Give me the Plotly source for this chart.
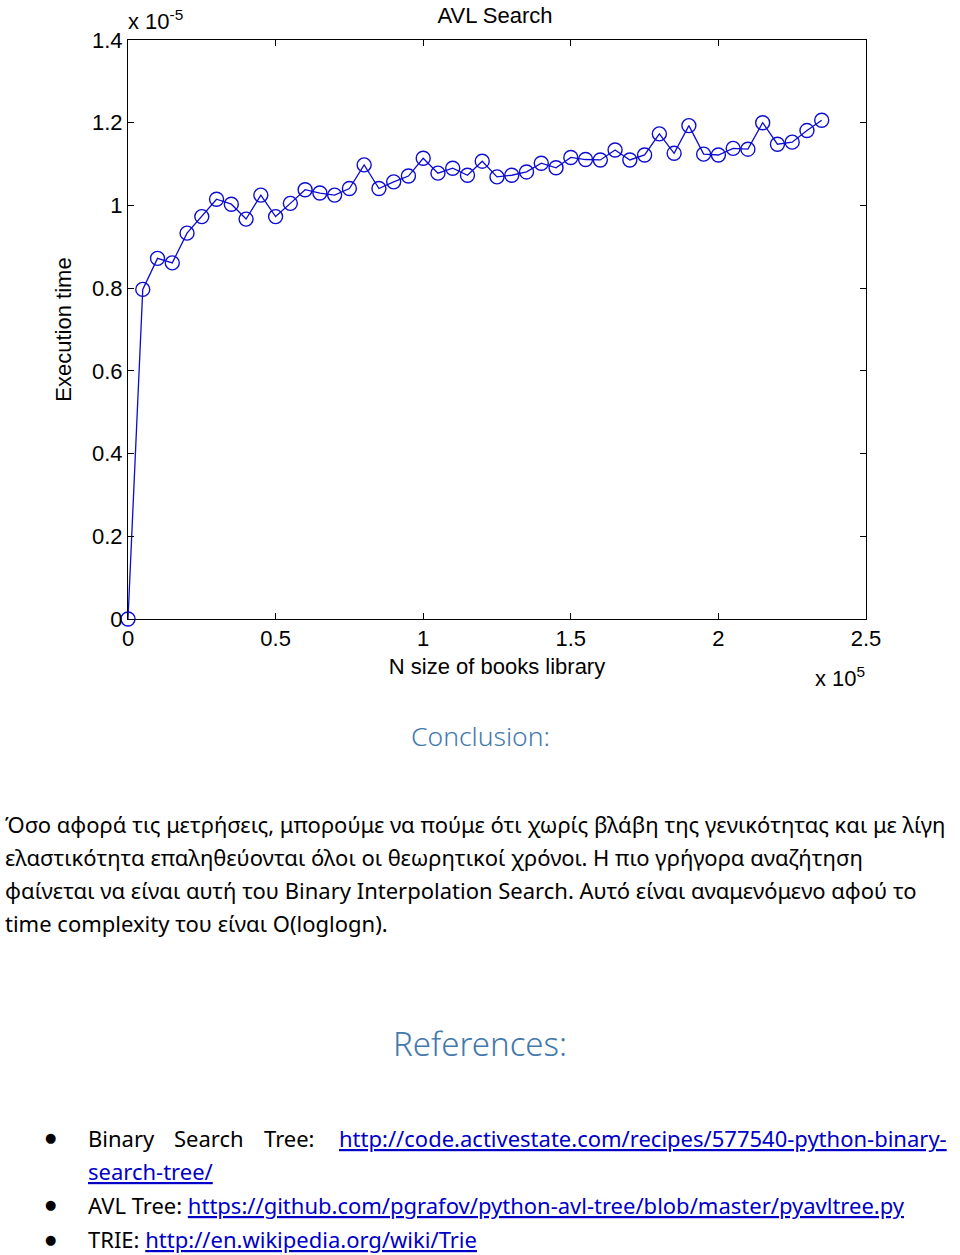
import plotly.graph_objects as go

# AVL search timings (x = N books, y = seconds)
n_sizes = [0, 5000, 10000, 15000, 20000, 25000, 30000, 35000, 40000, 45000,
           50000, 55000, 60000, 65000, 70000, 75000, 80000, 85000, 90000, 95000,
           100000, 105000, 110000, 115000, 120000, 125000, 130000, 135000, 140000, 145000,
           150000, 155000, 160000, 165000, 170000, 175000, 180000, 185000, 190000, 195000,
           200000, 205000, 210000, 215000, 220000, 225000, 230000, 235000]
exec_times = [0.0, 0.797e-5, 0.872e-5, 0.861e-5, 0.933e-5, 0.973e-5, 1.015e-5, 1.003e-5, 0.967e-5, 1.025e-5,
              0.973e-5, 1.005e-5, 1.038e-5, 1.030e-5, 1.025e-5, 1.041e-5, 1.098e-5, 1.041e-5, 1.057e-5, 1.071e-5,
              1.114e-5, 1.078e-5, 1.090e-5, 1.073e-5, 1.107e-5, 1.069e-5, 1.073e-5, 1.081e-5, 1.102e-5, 1.091e-5,
              1.116e-5, 1.111e-5, 1.110e-5, 1.134e-5, 1.110e-5, 1.122e-5, 1.173e-5, 1.126e-5, 1.193e-5, 1.124e-5,
              1.122e-5, 1.138e-5, 1.136e-5, 1.200e-5, 1.148e-5, 1.153e-5, 1.181e-5, 1.206e-5]

x_ticks = [0, 50000, 100000, 150000, 200000, 250000]
x_labels = ["0", "0.5", "1", "1.5", "2", "2.5"]
y_ticks = [0, 0.2e-5, 0.4e-5, 0.6e-5, 0.8e-5, 1.0e-5, 1.2e-5, 1.4e-5]
y_labels = ["0", "0.2", "0.4", "0.6", "0.8", "1", "1.2", "1.4"]

conclusion_lines = [
    "Όσο αφορά τις μετρήσεις, μπορούμε να πούμε ότι χωρίς βλάβη της γενικότητας και με λίγη",
    "ελαστικότητα επαληθεύονται όλοι οι θεωρητικοί χρόνοι. Η πιο γρήγορα αναζήτηση",
    "φαίνεται να είναι αυτή του Binary Interpolation Search. Αυτό είναι αναμενόμενο αφού το",
    "time complexity του είναι O(loglogn).",
]

ref_labels = ["AVL Tree: ", "TRIE: "]
ref_links = ["https://github.com/pgrafov/python-avl-tree/blob/master/pyavltree.py",
             "http://en.wikipedia.org/wiki/Trie"]
bst_words = ["Binary", "Search", "Tree:"]
bst_link = "http://code.activestate.com/recipes/577540-python-binary-search-tree/"

mat_font = dict(family="Liberation Sans", size=22, color="black")
doc_font = "Noto Sans"
line_color = "#0C0CD2"
heading_color = "#4479AC"
link_color = "#0000C8"

W, H = 960, 1255
L, R, T, B = 128, 866, 40, 619  # plot box in pixels


def at(px, py):
    return dict(x=(px - L) / (R - L), y=(B - py) / (B - T), xref="paper", yref="paper")


def link_text(shown, url):
    return f'<a href="{url}"><span style="color:{link_color}"><u>{shown}</u></span></a>'


fig = go.Figure()
fig.add_trace(go.Scatter(x=n_sizes, y=exec_times, mode="lines+markers",
                         line=dict(color=line_color, width=1.3),
                         marker=dict(symbol="circle-open", size=14, color=line_color,
                                     line=dict(width=1.4)),
                         cliponaxis=False, showlegend=False))

axis_common = dict(showline=True, linecolor="black", linewidth=1, mirror="ticks",
                   ticks="inside", ticklen=6, tickcolor="black", showgrid=False,
                   zeroline=False, tickfont=mat_font)
fig.update_xaxes(range=[0, 250000], tickmode="array", tickvals=x_ticks, ticktext=x_labels,
                 title=dict(text="N size of books library", font=mat_font, standoff=8),
                 **axis_common)
fig.update_yaxes(range=[0, 1.4e-5], tickmode="array", tickvals=y_ticks, ticktext=y_labels,
                 title=dict(text="Execution time", font=mat_font, standoff=14),
                 **axis_common)

ann = []
ann.append(dict(text="x 10<sup>-5</sup>", xanchor="left", yanchor="middle",
                showarrow=False, font=mat_font, **at(126, 20)))
ann.append(dict(text="x 10<sup>5</sup>", xanchor="left", yanchor="middle",
                showarrow=False, font=mat_font, **at(813, 677)))

ann.append(dict(text="Conclusion:", xanchor="center", yanchor="middle", showarrow=False,
                font=dict(family=doc_font, size=26.5, color=heading_color, weight=300),
                **at(480, 736)))
body = dict(family=doc_font, size=22, color="black")
for i, line in enumerate(conclusion_lines):
    ann.append(dict(text=line, xanchor="left", yanchor="middle", showarrow=False,
                    font=body, **at(3, 824 + 33 * i)))

ann.append(dict(text="References:", xanchor="center", yanchor="middle", showarrow=False,
                font=dict(family=doc_font, size=33, color=heading_color, weight=300),
                **at(480, 1043)))

for by in [1137, 1204, 1239]:
    ann.append(dict(text="●", xanchor="center", yanchor="middle", showarrow=False,
                    font=dict(family="DejaVu Sans", size=13, color="black"), **at(50, by)))

# justified first reference line
for word, wx in zip(bst_words, [86, 172, 262]):
    ann.append(dict(text=word, xanchor="left", yanchor="middle", showarrow=False,
                    font=body, **at(wx, 1138)))
split = bst_link.index("search-tree/")
ann.append(dict(text=link_text(bst_link[:split], bst_link), xanchor="left", yanchor="middle",
                showarrow=False, font=body, **at(337, 1138)))
ann.append(dict(text=link_text(bst_link[split:], bst_link), xanchor="left", yanchor="middle",
                showarrow=False, font=body, **at(86, 1171)))

for label, link, ly in zip(ref_labels, ref_links, [1205, 1239]):
    ann.append(dict(text=label + link_text(link, link), xanchor="left", yanchor="middle",
                    showarrow=False, font=body, **at(86, ly)))

fig.update_layout(
    width=W, height=H,
    margin=dict(l=L, r=W - R, t=T, b=H - B),
    paper_bgcolor="white", plot_bgcolor="white",
    title=dict(text="AVL Search", x=(495 - L) / (R - L), xref="paper", xanchor="center",
               y=1 - 15 / H, yref="container", yanchor="middle",
               font=dict(family="Liberation Sans", size=22, color="black")),
    annotations=ann,
)

# drop the default page margin so the figure sits at the window's corner
fig.write_html("out.html", config={"displayModeBar": False},
               post_script="document.body.style.margin = '0';")
